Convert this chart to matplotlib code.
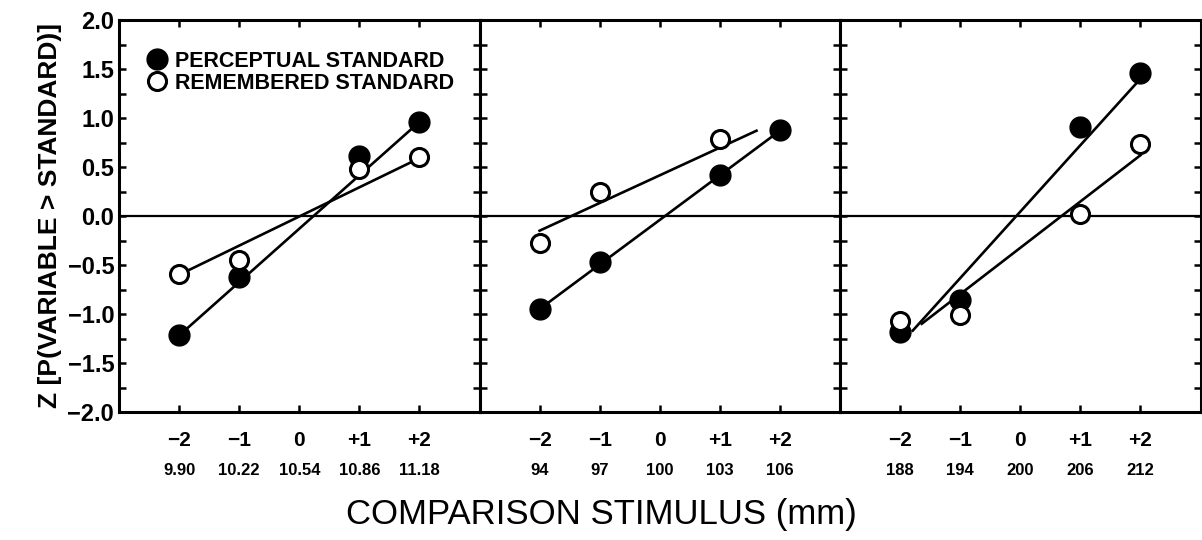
import numpy as np
import matplotlib
matplotlib.use('Agg')
import matplotlib.pyplot as plt
from matplotlib.ticker import MultipleLocator
import matplotlib.transforms as mtransforms

plt.rcParams['font.family'] = ['Liberation Sans', 'DejaVu Sans']

# niveis do estimulo de comparacao
niveis = [-2, -1, 1, 2]
ticks_x = [-2, -1, 0, 1, 2]
rotulos_x = ['\u22122', '\u22121', '0', '+1', '+2']

# valores em mm de cada painel
mm_p1 = ['9.90', '10.22', '10.54', '10.86', '11.18']
mm_p2 = ['94', '97', '100', '103', '106']
mm_p3 = ['188', '194', '200', '206', '212']

# z para o padrao perceptual (cheio) e lembrado (vazio)
perc_p1 = [-1.21, -0.62, 0.61, 0.96]
lemb_p1 = [-0.59, -0.45, 0.48, 0.60]
perc_p2 = [-0.95, -0.47, 0.42, 0.88]
lemb_p2 = [-0.28, 0.25, 0.79, np.nan]
perc_p3 = [-1.18, -0.86, 0.91, 1.46]
lemb_p3 = [-1.07, -1.01, 0.02, 0.73]

# extremos das retas ajustadas (x, y)
reta_perc_x = [[-2, 2], [-2, 2], [-1.79, 2]]
reta_perc_y = [[-1.22, 0.96], [-0.95, 0.87], [-1.17, 1.40]]
reta_lemb_x = [[-2, 2], [-2, 1.61], [-1.64, 2]]
reta_lemb_y = [[-0.60, 0.59], [-0.15, 0.87], [-1.10, 0.62]]

paineis = [(perc_p1, lemb_p1, mm_p1), (perc_p2, lemb_p2, mm_p2), (perc_p3, lemb_p3, mm_p3)]

fig = plt.figure(figsize=(12.02, 5.4), dpi=100)
esq, larg, base, alt = 119/1202, 360.5/1202, 1 - 412/540, 392/540

for i, (perc, lemb, mm) in enumerate(paineis):
    ax = fig.add_axes([esq + i*larg, base, larg, alt])
    ax.set_xlim(-3, 3)
    ax.set_ylim(-2, 2)
    ax.axhline(0, color='black', lw=1.6, zorder=1)
    ax.plot(reta_perc_x[i], reta_perc_y[i], color='black', lw=1.9, zorder=2)
    ax.plot(reta_lemb_x[i], reta_lemb_y[i], color='black', lw=1.9, zorder=2)
    ax.plot(niveis, perc, 'o', ms=15, mfc='black', mec='black', zorder=3,
            label='PERCEPTUAL STANDARD')
    ax.plot(niveis, lemb, 'o', ms=13, mfc='white', mec='black', mew=2.2, zorder=4,
            label='REMEMBERED STANDARD')

    for lado in ax.spines.values():
        lado.set_linewidth(2.2)
    ax.set_xticks(ticks_x)
    ax.set_xticklabels(rotulos_x, fontsize=15, fontweight='bold')
    ax.yaxis.set_major_locator(MultipleLocator(0.5))
    ax.yaxis.set_minor_locator(MultipleLocator(0.25))
    ax.tick_params(axis='x', direction='in', top=True, length=5, width=1.8, pad=14)
    ax.tick_params(axis='y', which='both', direction='in', left=True, right=True,
                   length=5, width=1.8)
    if i == 0:
        ax.set_yticklabels([f'{v:.1f}'.replace('-', '\u2212') for v in ax.get_yticks()],
                           fontsize=17, fontweight='bold')
        ax.set_ylabel('Z [P(VARIABLE > STANDARD)]', fontsize=19, fontweight='bold',
                      labelpad=4)
        ax.legend(loc='upper left', bbox_to_anchor=(0.035, 0.96), frameon=False,
                  handletextpad=0.3, labelspacing=0.05, borderpad=0.2,
                  prop={'size': 15.5, 'weight': 'bold'}, handlelength=1.0)
    else:
        ax.set_yticklabels([])
    trans = mtransforms.blended_transform_factory(ax.transData, ax.transAxes)
    for x, s in zip(ticks_x, mm):
        ax.text(x, -0.148, s, transform=trans, ha='center', va='center',
                fontsize=12, fontweight='bold')

fig.text(0.5, 0.047, 'COMPARISON STIMULUS (mm)', ha='center', va='center', fontsize=25)

fig.savefig('out.png', dpi=100)
